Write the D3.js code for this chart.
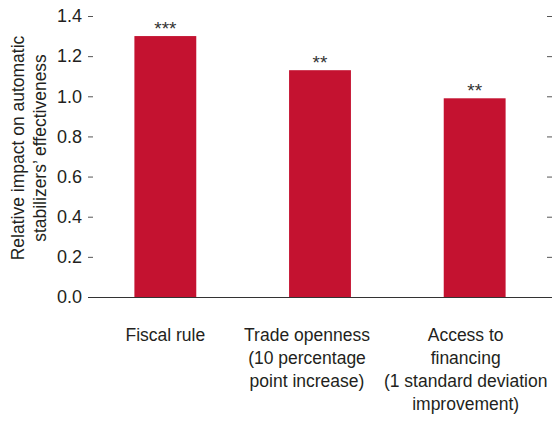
<!DOCTYPE html>
<html><head><meta charset="utf-8">
<script src="https://cdn.jsdelivr.net/npm/d3@7"></script>
<style>
body{margin:0;background:#fff;}
text{font-family:"Liberation Sans Narrow","Arial Narrow","Liberation Sans",Arial,sans-serif;fill:#231f20;}
</style></head>
<body><svg id="c" width="552" height="423"></svg>
<script>
const categories = ["Fiscal rule","Trade openness","Access to financing"];
const labelLines = [["Fiscal rule"],["Trade openness","(10 percentage","point increase)"],["Access to","financing","(1 standard deviation","improvement)"]];
const values = [1.30, 1.13, 0.99];
const significance = ["***","**","**"];
const yTicks = [0,0.2,0.4,0.6,0.8,1.0,1.2,1.4];
const yTitle = ["Relative impact on automatic","stabilizers\u2019 effectiveness"];

const svg = d3.select("#c");
const L = 88, R = 552, T = 16, B = 297;
const x = d3.scaleBand().domain(categories).range([L,R]).paddingInner(0.6).paddingOuter(0.3);
const y = d3.scaleLinear().domain([0,1.4]).range([B,T]);

// left ticks
const yl = svg.append("g").attr("transform",`translate(${L+5},0)`)
  .call(d3.axisLeft(y).tickValues(yTicks).tickFormat(d3.format(".1f")).tickSize(5).tickPadding(6));
yl.select(".domain").remove();
yl.selectAll(".tick line").attr("stroke","#555");
yl.selectAll(".tick text").style("font-size","18px").attr("fill","#231f20");

// right ticks
const yr = svg.append("g").attr("transform",`translate(${R-5},0)`)
  .call(d3.axisRight(y).tickValues(yTicks).tickSize(5).tickFormat(""));
yr.select(".domain").remove();
yr.selectAll(".tick line").attr("stroke","#555");

// bars
svg.append("g").selectAll("rect").data(values).join("rect")
  .attr("x",(d,i)=>x(categories[i])).attr("width",x.bandwidth())
  .attr("y",d=>y(d)).attr("height",d=>B-y(d)).attr("fill","#c41230");

// baseline
svg.append("line").attr("x1",L).attr("x2",R).attr("y1",B+0.5).attr("y2",B+0.5).attr("stroke","#333").attr("stroke-width",1.2);

// significance
svg.append("g").selectAll("text").data(values).join("text")
  .attr("x",(d,i)=>x(categories[i])+x.bandwidth()/2).attr("y",d=>y(d)-1)
  .attr("text-anchor","middle").style("font-size","19px").style("fill","#333").text((d,i)=>significance[i]);

// category labels
const dxs=[0,-13,-9];
const cg = svg.append("g");
labelLines.forEach((lines,i)=>{
  const cx = x(categories[i])+x.bandwidth()/2+dxs[i];
  const t = cg.append("text").attr("text-anchor","middle").style("font-size","17.5px")
    .attr("x",cx).attr("y",341);
  lines.forEach((s,j)=>t.append("tspan").attr("x",cx).attr("dy",j?23:0).text(s));
});

// y title
const yt = svg.append("text").attr("transform","translate(24,148) rotate(-90)").attr("text-anchor","middle").style("font-size","17.5px");
yTitle.forEach((s,j)=>yt.append("tspan").attr("x",0).attr("dy",j?22:0).text(s));
</script></body></html>
